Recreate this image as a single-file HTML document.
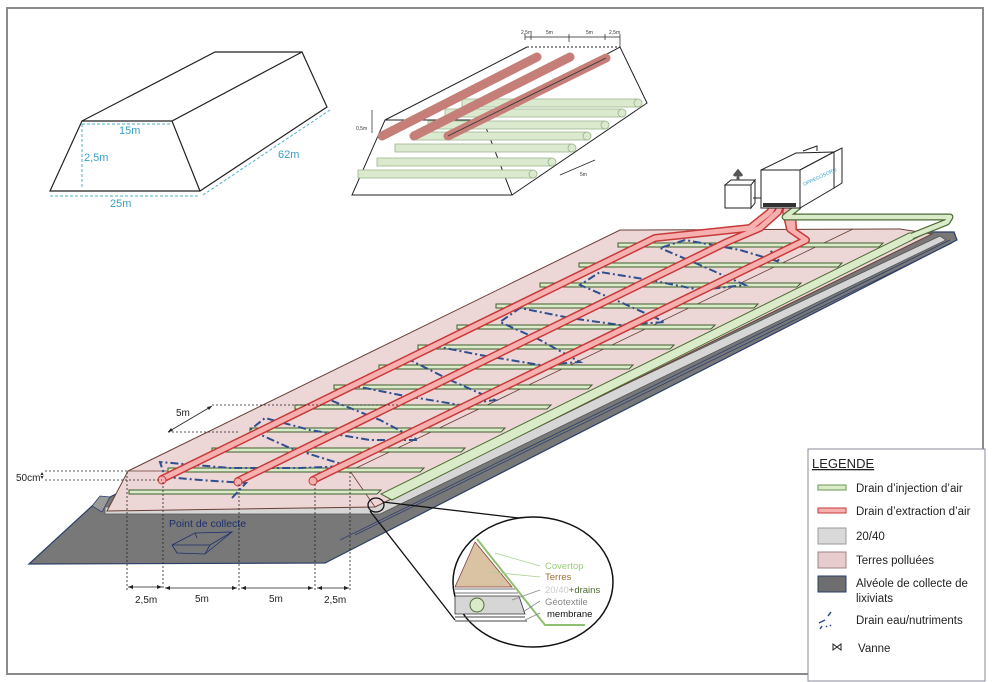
<!DOCTYPE html>
<html><head><meta charset="utf-8"><style>
html,body{margin:0;padding:0;background:#fff;}
svg{display:block;font-family:"Liberation Sans",sans-serif;}
</style></head><body>
<svg width="993" height="682" viewBox="0 0 993 682" xmlns="http://www.w3.org/2000/svg">
<rect x="7" y="8" width="976" height="666" fill="#fff" stroke="#8a8a8a" stroke-width="2"/>

<!-- Top-left box -->
<g fill="none" stroke="#222" stroke-width="1.2">
<path d="M82,121 L215,52 L302,52 L327,107 L200,191 L50,191 L82,121 L172,121 L302,52 M172,121 L200,191"/>
</g>
<g fill="none" stroke="#4fb0d0" stroke-width="1" stroke-dasharray="3,2">
<path d="M82,124 H172 M82,124 V189 M50,196 H200 M203,195 L330,110"/>
</g>
<g fill="#3aa0c8" font-size="11">
<text x="119" y="134">15m</text><text x="84" y="161">2,5m</text><text x="110" y="207">25m</text><text x="278" y="158">62m</text>
</g>

<!-- Top-middle box -->
<g fill="none" stroke="#222" stroke-width="1">
<path d="M385,120 L527,47 M483,120 L512,195 L352,195 L385,120 L483,120 L620,47 L647,103 L512,195"/>
<path d="M527,47 H620" stroke-dasharray="2,2"/>
<path d="M525,37 H620 M525,34 V40 M531,34V40 M569,34V40 M605,34V40 M620,34V48 M569,37V42" stroke-width="0.7"/>
<path d="M372,110 V133" stroke-width="0.7"/>
<path d="M560,175 L595,160" stroke-width="0.7"/>
</g>
<g font-size="5" fill="#333"><text x="521" y="34">2,5m</text><text x="546" y="34">5m</text><text x="586" y="34">5m</text><text x="609" y="34">2,5m</text><text x="356" y="130">0,5m</text><text x="580" y="176">5m</text></g>
<g stroke="#98b48a" stroke-width="0.8" fill="#dbe9cf">
<path d="M462,99 H638 V107 H462 Z"/><path d="M445,109 H622 V117 H445Z"/><path d="M428,121 H605 V129 H428Z"/><path d="M412,132 H587 V140 H412Z"/><path d="M395,144 H572 V152 H395Z"/><path d="M377,158 H552 V166 H377Z"/><path d="M358,170 H533 V178 H358Z"/>
<circle cx="638" cy="103" r="4"/><circle cx="622" cy="113" r="4"/><circle cx="605" cy="125" r="4"/><circle cx="587" cy="136" r="4"/><circle cx="572" cy="148" r="4"/><circle cx="552" cy="162" r="4"/><circle cx="533" cy="174" r="4"/>
</g>
<g stroke="#c57f78" stroke-width="9" stroke-linecap="round" fill="none">
<path d="M382,136 L537,57"/><path d="M414,136 L570,57"/><path d="M448,136 L606,58"/>
</g>
<path d="M448,136 L606,58" stroke="#333" stroke-width="0.8"/>

<!-- Main slab: alveole gray -->
<path d="M29,564 L92,506 L108,498 L620,240 L903,232 L954,232 L957,240 L325,563 Z" fill="#787878" stroke="#2e3f6a" stroke-width="1.2"/>
<path d="M92,506 L100,496 L110,497 L102,512 Z" fill="#9a9a9a" stroke="#2e3f6a" stroke-width="0.8"/>
<path d="M340,540 L950,240 M355,535 L952,243" stroke="#2e3f6a" stroke-width="0.8"/>
<!-- 20/40 light strips -->
<path d="M105,507 L372,504 L940,236 L946,240 L380,514 L105,514 Z" fill="#d6d6d6" stroke="#555" stroke-width="0.8"/>
<!-- pink body -->
<path d="M128,471 L620,230 L900,229 L932,234 L375,507 L107,511 Z" fill="#ecd6d6" stroke="#6b3f35" stroke-width="1"/>
<path d="M350,471 L853,229 M350,471 L375,507 M128,471 L350,471" stroke="#6b3f35" stroke-width="0.8" fill="none"/>
<!-- green collector -->
<path d="M381,494 L909,233 L926,233 L392,500 Z" fill="#d9ebc8" stroke="#4d6b36" stroke-width="1"/>

<!-- green injection bars -->
<g fill="#d9ebc8" stroke="#3f5d2c" stroke-width="1">
<path d="M618,243 H883 L879,247 H618 Z"/>
<path d="M579,263 H842 L838,267 H579 Z"/>
<path d="M540,283 H801 L797,287 H540 Z"/>
<path d="M496,304 H758 L754,308 H496 Z"/>
<path d="M457,325 H715 L711,329 H457 Z"/>
<path d="M418,345 H674 L670,349 H418 Z"/>
<path d="M379,365 H633 L629,369 H379 Z"/>
<path d="M334,385 H592 L588,389 H334 Z"/>
<path d="M295,405 H551 L547,409 H295 Z"/>
<path d="M250,428 H505 L501,432 H250 Z"/>
<path d="M212,448 H465 L461,452 H212 Z"/>
<path d="M168,468 H424 L420,472 H168 Z"/>
<path d="M129,490 H381 L377,494 H129 Z"/>
</g>

<!-- blue water drain -->
<path d="M232,498 L246,483 L200,480 L165,477 L160,462 L230,468 L300,468 L348,466 L290,448 L250,430 L265,418 L310,430 L370,440 L418,440 L380,420 L330,400 L350,385 L400,395 L460,405 L495,400 L450,380 L410,360 L430,345 L480,355 L540,365 L580,362 L540,340 L500,322 L520,308 L570,318 L620,325 L665,322 L620,302 L580,285 L600,272 L650,280 L700,290 L745,285 L700,265 L660,248 L685,240 L740,250 L780,262 L770,250" fill="none" stroke="#2f4f8f" stroke-width="2" stroke-dasharray="8,3,2,3"/>

<!-- red extraction pipes -->
<g fill="none" stroke-linecap="round" stroke-linejoin="round">
<g stroke="#c83a3a" stroke-width="8">
<path d="M162,479 L655,238 L750,228 L770,212 L775,204"/>
<path d="M238,481 L727,242 L760,228 L778,212 L781,204"/>
<path d="M313,480 L806,240 L790,229 L786,212 L788,204"/>
<path d="M793,228 L792,212 L794,204"/>
</g>
<g stroke="#f7b0b0" stroke-width="5">
<path d="M162,479 L655,238 L750,228 L770,212 L775,204"/>
<path d="M238,481 L727,242 L760,228 L778,212 L781,204"/>
<path d="M313,480 L806,240 L790,229 L786,212 L788,204"/>
<path d="M793,228 L792,212 L794,204"/>
</g>
</g>
<g fill="#f7b0b0" stroke="#c83a3a" stroke-width="1"><circle cx="162" cy="480" r="4"/><circle cx="238" cy="482" r="4"/><circle cx="313" cy="481" r="4"/></g>

<!-- green pipe to machine -->
<path d="M799,206 L785,217 H950 L947,222 L912,236" fill="none" stroke="#4d6b36" stroke-width="7" stroke-linejoin="round"/>
<path d="M799,206 L785,217 H950 L947,222 L912,236" fill="none" stroke="#d9ebc8" stroke-width="4.5" stroke-linejoin="round"/>

<!-- machine -->
<g fill="#fff" stroke="#222" stroke-width="1">
<path d="M761,170 L800,170 L800,208 L761,208 Z"/>
<path d="M761,170 L796,153 L834,152 L800,170 Z"/>
<path d="M800,170 L834,152 L834,188 L800,208 Z"/>
<path d="M834,152 L842,148 L842,183 L834,188 Z"/>
<path d="M803,151 L817,146 L817,151"/>
<path d="M725,185 L751,185 L751,208 L725,208 Z"/>
<path d="M725,185 L731,180 L755,180 L751,185 Z"/>
<path d="M751,185 L755,180 L755,203 L751,208 Z"/>
</g>
<rect x="763" y="203" width="33" height="4" fill="#333"/>
<path d="M738,180 V174 M734,176 L738,171 L742,176" stroke="#555" stroke-width="3" fill="#555"/>
<path d="M761,198 H753" stroke="#222" stroke-width="1"/>
<text x="804" y="186" font-size="5" fill="#3aa0c8" transform="rotate(-25 804 186)">OPRECOSORO</text>

<!-- dimensions -->
<g stroke="#222" stroke-width="0.8" stroke-dasharray="2,2" fill="none">
<path d="M127,472 V590 M163,482 V590 M239,484 V590 M315,484 V590 M350,472 V590"/>
<path d="M45,471 H128 M45,480 H162"/>
<path d="M212,405 H400 M168,432 H240"/>
</g>
<g stroke="#222" stroke-width="0.8" fill="none">
<path d="M128,587 H162 M165,588 H237 M241,588 H313 M317,588 H349"/>
<path d="M168,432 L212,406"/>
</g>
<g fill="#222">
<path d="M128,587 l5,-2 v4z M162,587 l-5,-2 v4z M165,588 l5,-2v4z M237,588 l-5,-2v4z M241,588 l5,-2v4z M313,588 l-5,-2v4z M317,588 l5,-2v4z M349,588 l-5,-2v4z"/>
<path d="M42,472 l-2,4 h4z M42,479 l-2,-4 h4z"/>
<path d="M168,432 l3,-4 l2,3z M212,406 l-5,1 l2,3z"/>
</g>
<g font-size="10" fill="#222"><text x="135" y="603">2,5m</text><text x="195" y="602">5m</text><text x="269" y="602">5m</text><text x="324" y="603">2,5m</text><text x="16" y="481">50cm</text><text x="176" y="416">5m</text></g>

<!-- point de collecte -->
<text x="169" y="527" font-size="10.5" fill="#1e2f6a">Point de collecte</text>
<path d="M172,545 L195,533 L232,532 L210,545 Z M172,545 L177,553 L205,554 L210,545 M205,554 L232,532 M195,533 L197,538" fill="none" stroke="#1e2f6a" stroke-width="0.8"/>

<!-- magnifier -->
<ellipse cx="376" cy="505" rx="8" ry="7" fill="none" stroke="#111" stroke-width="1.3"/>
<path d="M383,502 L527,519 M370,511 L455,620" stroke="#111" stroke-width="1.3" fill="none"/>
<ellipse cx="533" cy="582" rx="80" ry="65" fill="#fff" stroke="#111" stroke-width="1.5"/>
<path d="M475,542 L455,587 L512,587 Z" fill="#d9c3a3" stroke="#8a3c3c" stroke-width="0.8"/>
<path d="M455,589 H515 M455,593 H518" stroke="#777" stroke-width="1"/>
<path d="M455,596 H519 L525,614 H455 Z" fill="#d6d6d6" stroke="#333" stroke-width="0.8"/>
<path d="M455,617 H525 M455,621 H527" stroke="#444" stroke-width="1"/>
<circle cx="477" cy="605" r="7" fill="#d9ebc8" stroke="#4d6b36"/>
<path d="M477,539 L545,625 H585" fill="none" stroke="#8fbf70" stroke-width="2"/>
<path d="M540,566 L495,553 M540,577 L490,572" stroke="#a9cf90" stroke-width="0.8"/>
<path d="M540,590 L512,600 M540,601 L523,612 M540,613 L525,620" stroke="#888" stroke-width="0.8"/>
<g font-size="9.5"><text x="545" y="569" fill="#9ccc7c">Covertop</text><text x="545" y="580" fill="#a07030">Terres</text><text x="545" y="593" fill="#ccc">20/40<tspan fill="#4a6a30">+drains</tspan></text><text x="545" y="605" fill="#888">Géotextile</text><text x="547" y="617" fill="#111">membrane</text></g>

<!-- legend -->
<rect x="808" y="449" width="177" height="232" fill="#fff" stroke="#889" stroke-width="1"/>
<text x="812" y="468" font-size="13" fill="#222" text-decoration="underline">LEGENDE</text>
<rect x="818" y="485" width="28" height="5" fill="#d9ebc8" stroke="#6a9a50"/>
<rect x="818" y="508" width="28" height="5" fill="#f7b0b0" stroke="#c83a3a"/>
<rect x="818" y="528" width="28" height="16" fill="#d9d9d9" stroke="#999"/>
<rect x="818" y="552" width="28" height="16" fill="#e6cccc" stroke="#a08080"/>
<rect x="818" y="576" width="28" height="16" fill="#6e6e70" stroke="#2e3f6a"/>
<path d="M819,623 L825,620 M828,616 L831,612 M820,629 L822,626 M826,627 L827,626 M830,626 L831,625" stroke="#2f4f8f" stroke-width="1.5"/>
<path d="M833,644 L841,650 V644 L833,650 Z" fill="none" stroke="#222" stroke-width="1"/>
<g font-size="11.5" fill="#222">
<text x="856" y="492">Drain d’injection d’air</text>
<text x="856" y="515">Drain d’extraction d’air</text>
<text x="856" y="540">20/40</text>
<text x="856" y="564">Terres polluées</text>
<text x="856" y="587">Alvéole de collecte de</text>
<text x="856" y="602">lixiviats</text>
<text x="856" y="624">Drain eau/nutriments</text>
<text x="858" y="652">Vanne</text>
</g>
</svg>
</body></html>
